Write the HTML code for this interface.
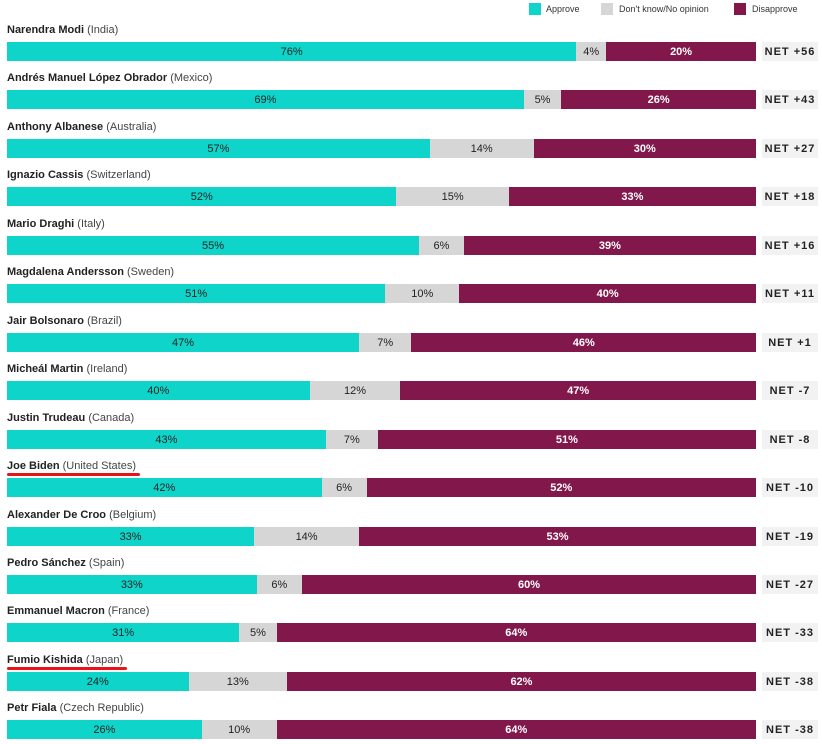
<!DOCTYPE html>
<html><head><meta charset="utf-8"><style>
body{margin:0;width:822px;height:744px;background:#fff;font-family:"Liberation Sans",sans-serif;overflow:hidden;position:relative}
.t{position:absolute;font-size:11px;color:#222;white-space:nowrap}
.seg{position:absolute;height:19px;font-size:11px;line-height:20px;text-align:center;color:#222}
.net{position:absolute;left:762px;width:56px;height:19px;background:#f2f2f2;font-size:11px;font-weight:bold;line-height:20px;text-align:center;letter-spacing:1px;color:#222}
.lg{position:absolute;top:3px;width:12px;height:12px}
.lt{position:absolute;top:4px;font-size:9px;color:#333}
</style></head><body>
<div class="lg" style="left:529px;background:#0fd4c9"></div>
<div class="lt" style="left:546px">Approve</div>
<div class="lg" style="left:601px;background:#d6d6d6"></div>
<div class="lt" style="left:619px">Don't know/No opinion</div>
<div class="lg" style="left:734px;background:#82174b"></div>
<div class="lt" style="left:752px">Disapprove</div>
<div id="chart"></div>
<script>
const leaders=["Narendra Modi","Andrés Manuel López Obrador","Anthony Albanese","Ignazio Cassis","Mario Draghi","Magdalena Andersson","Jair Bolsonaro","Micheál Martin","Justin Trudeau","Joe Biden","Alexander De Croo","Pedro Sánchez","Emmanuel Macron","Fumio Kishida","Petr Fiala"];
const countries=["India","Mexico","Australia","Switzerland","Italy","Sweden","Brazil","Ireland","Canada","United States","Belgium","Spain","France","Japan","Czech Republic"];
const approve=[76,69,57,52,55,51,47,40,43,42,33,33,31,24,26];
const dontknow=[4,5,14,15,6,10,7,12,7,6,14,6,5,13,10];
const disapprove=[20,26,30,33,39,40,46,47,51,52,53,60,64,62,64];
const netLabels=["+56","+43","+27","+18","+16","+11","+1","-7","-8","-10","-19","-27","-33","-38","-38"];
const underlined=[9,13];
const chart=document.getElementById('chart');
const X0=7,W=749,Y0=42,P=48.45;
const xs=v=>v/100*W;
leaders.forEach((n,i)=>{
  const y=Y0+i*P;
  const lab=document.createElement('div');
  lab.className='t';
  lab.style.left='7px';lab.style.top=(y-18)+'px';
  lab.innerHTML='<span style="font-weight:bold;color:#222">'+n+'</span> <span style="color:#444">('+countries[i]+')</span>';
  
  
  chart.appendChild(lab);
  if(underlined.includes(i)){
    const u=document.createElement('div');
    u.style.cssText='position:absolute;left:7px;height:3px;border-radius:2px;background:#e8141a;top:'+(y-5)+'px;width:'+(lab.offsetWidth+4)+'px';
    
    
    chart.appendChild(u);
  }
  const tot=approve[i]+dontknow[i]+disapprove[i];
  const vals=[approve[i],dontknow[i],disapprove[i]];
  const cols=['#0fd4c9','#d6d6d6','#82174b'];
  const names=['bar-approve','bar-dontknow','bar-disapprove'];
  let x=X0;
  vals.forEach((v,k)=>{
    const w=xs(v/tot*100);
    const s=document.createElement('div');
    s.className='seg';
    s.style.left=x+'px';s.style.top=y+'px';s.style.width=w+'px';s.style.background=cols[k];
    if(k==2){s.style.color='#fff';s.style.fontWeight='bold';}
    s.textContent=v+'%';
    
    
    chart.appendChild(s);
    x+=w;
  });
  const nt=document.createElement('div');
  nt.className='net';nt.style.top=y+'px';
  nt.textContent='NET '+netLabels[i];
  
  
  chart.appendChild(nt);
});
</script>
</body></html>
